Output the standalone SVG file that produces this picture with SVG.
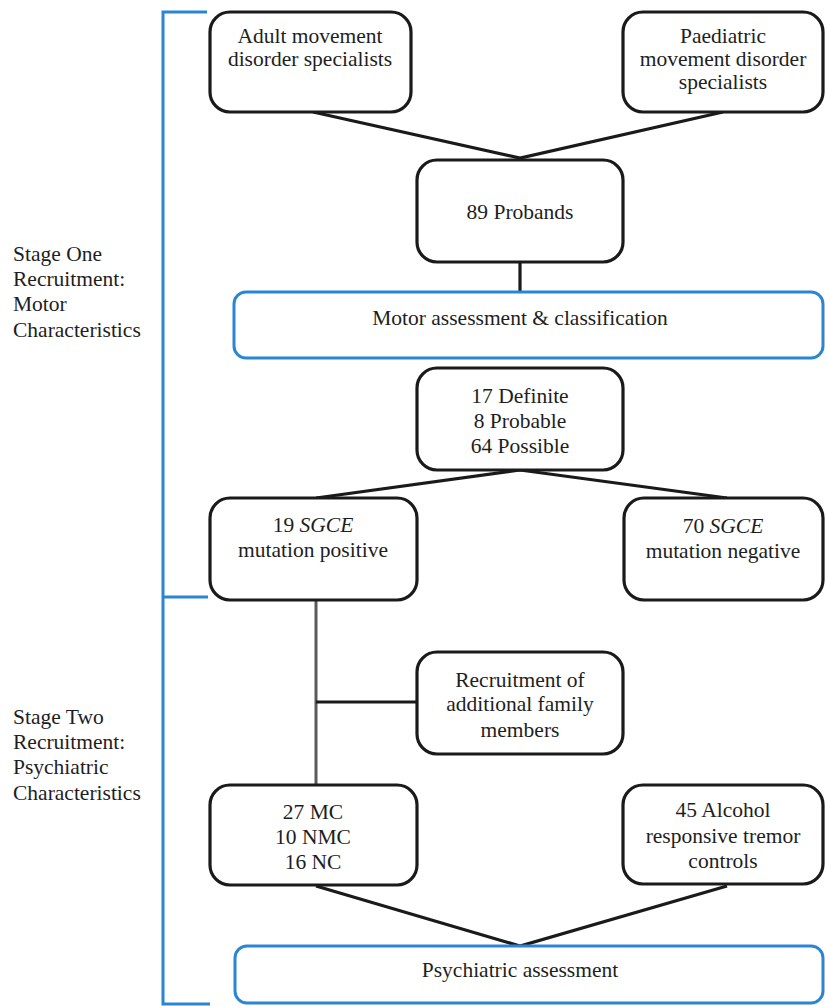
<svg xmlns="http://www.w3.org/2000/svg" width="825" height="1006" viewBox="0 0 825 1006" font-family="'Liberation Serif', Tinos, 'Times New Roman', serif">
<style>
.box{fill:#fff;stroke:#1a1a1a;stroke-width:3.2}
.bbox{fill:#fff;stroke:#2a86d2;stroke-width:3}
.line{fill:none;stroke:#1a1a1a;stroke-width:3.2}
.gline{fill:none;stroke:#5a5a5a;stroke-width:3}
.bracket{fill:none;stroke:#2a86d2;stroke-width:3}
text{font-family:'Liberation Serif', Tinos, 'Times New Roman', serif;font-size:21.5px;fill:#1e1e1e}
.c{text-anchor:middle}
</style>
<rect width="825" height="1006" fill="#fff"/>
<g id="brackets">
<path class="bracket" d="M207,12 H163 V1004 H210 M163,597 H208"/>
</g>
<g id="stage-labels">
<text x="13" y="261">Stage One</text>
<text x="13" y="286">Recruitment:</text>
<text x="13" y="311">Motor</text>
<text x="13" y="337">Characteristics</text>
<text x="13" y="724">Stage Two</text>
<text x="13" y="749">Recruitment:</text>
<text x="13" y="774">Psychiatric</text>
<text x="13" y="800">Characteristics</text>
</g>
<g id="connectors">
<path class="line" d="M313,112 L520,158 L723,112"/>
<path class="line" d="M520,262 V292"/>
<path class="line" d="M316,498 L520,470 L727,498"/>
<path class="gline" d="M316,600 V785"/>
<path class="line" d="M316,702 H417"/>
<path class="line" d="M316,886 L520,946 L727,886"/>
</g>
<g id="adult">
<rect class="box" x="210" y="12" width="201" height="100" rx="20"/>
<text class="c" x="310" y="43">Adult movement</text>
<text class="c" x="310" y="66">disorder specialists</text>
</g>
<g id="paediatric">
<rect class="box" x="623" y="12" width="200" height="100" rx="20"/>
<text class="c" x="723" y="43">Paediatric</text>
<text class="c" x="723" y="66">movement disorder</text>
<text class="c" x="723" y="89">specialists</text>
</g>
<g id="probands">
<rect class="box" x="417" y="160" width="206" height="102" rx="20"/>
<text class="c" x="520" y="219">89 Probands</text>
</g>
<g id="motor-assessment">
<rect class="bbox" x="234" y="292" width="589" height="66" rx="12"/>
<text class="c" x="520" y="325">Motor assessment &amp; classification</text>
</g>
<g id="classification">
<rect class="box" x="417" y="368" width="206" height="102" rx="20"/>
<text class="c" x="520" y="403">17 Definite</text>
<text class="c" x="520" y="428">8 Probable</text>
<text class="c" x="520" y="453">64 Possible</text>
</g>
<g id="sgce-positive">
<rect class="box" x="210" y="498" width="207" height="102" rx="20"/>
<text class="c" x="313" y="532">19 <tspan font-style="italic">SGCE</tspan></text>
<text class="c" x="313" y="557">mutation positive</text>
</g>
<g id="sgce-negative">
<rect class="box" x="624" y="498" width="199" height="102" rx="20"/>
<text class="c" x="723" y="533">70 <tspan font-style="italic">SGCE</tspan></text>
<text class="c" x="723" y="558">mutation negative</text>
</g>
<g id="family">
<rect class="box" x="417" y="652" width="206" height="102" rx="20"/>
<text class="c" x="520" y="687">Recruitment of</text>
<text class="c" x="520" y="711">additional family</text>
<text class="c" x="520" y="737">members</text>
</g>
<g id="carriers">
<rect class="box" x="210" y="785" width="207" height="100" rx="20"/>
<text class="c" x="313" y="819">27 MC</text>
<text class="c" x="313" y="844">10 NMC</text>
<text class="c" x="313" y="869">16 NC</text>
</g>
<g id="controls">
<rect class="box" x="623" y="785" width="200" height="99" rx="20"/>
<text class="c" x="723" y="817">45 Alcohol</text>
<text class="c" x="723" y="843">responsive tremor</text>
<text class="c" x="723" y="868">controls</text>
</g>
<g id="psychiatric-assessment">
<rect class="bbox" x="235" y="946" width="588" height="57" rx="12"/>
<text class="c" x="520" y="977">Psychiatric assessment</text>
</g>
</svg>
